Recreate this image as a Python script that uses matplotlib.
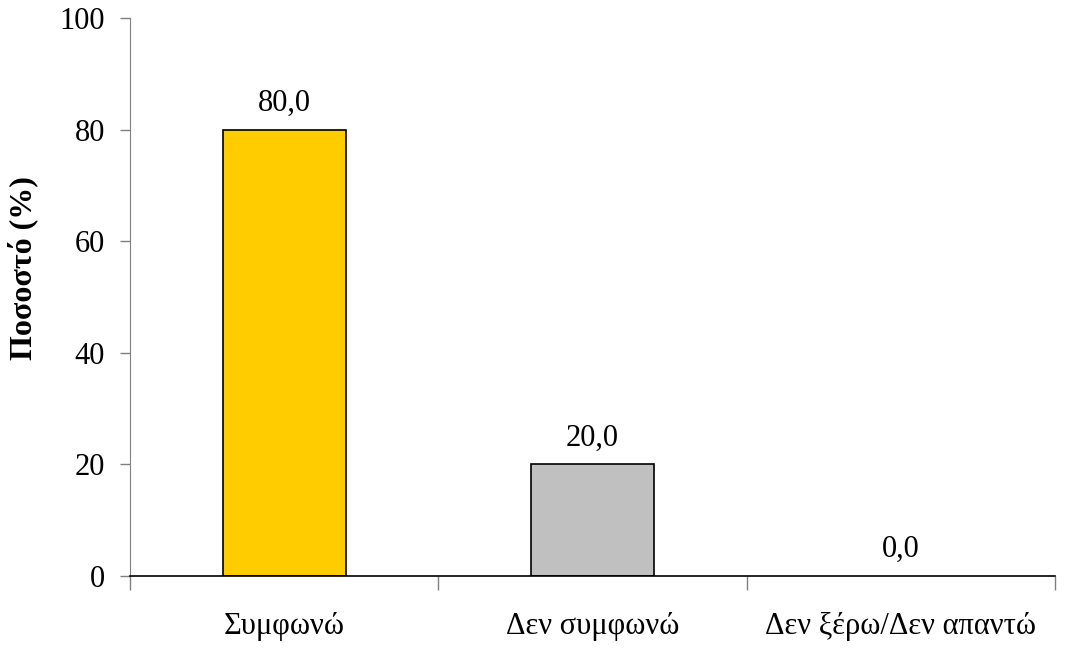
import matplotlib.pyplot as plt

categories = ["Συμφωνώ", "Δεν συμφωνώ", "Δεν ξέρω/Δεν απαντώ"]
values = [80.0, 20.0, 0.0]
colors = ["#FFCC00", "#C0C0C0", "#FFFFFF"]

plt.rcParams['font.family'] = ['Liberation Serif', 'DejaVu Serif']

fig = plt.figure(figsize=(10.71, 6.49), dpi=100)
ax = fig.add_axes([0.1214, 0.1125, 0.8636, 0.8598])

x = range(len(categories))
bars = ax.bar(x, values, width=0.40, color=colors, edgecolor="black", linewidth=1.2)
for i, v in enumerate(values):
    if v == 0:
        bars[i].set_edgecolor("none")
    ax.annotate(f"{v:.1f}".replace(".", ","), (i, v), xytext=(0, 19),
                textcoords="offset points", ha="center", va="center", fontsize=22)

ax.set_xlim(-0.5, 2.5)
ax.set_ylim(0, 100)
ax.set_yticks([0, 20, 40, 60, 80, 100])
ax.tick_params(axis="y", labelsize=22, length=7, width=1, color="#808080", pad=11)

# category ticks sit on the boundaries between bars
ax.set_xticks([-0.5, 0.5, 1.5, 2.5])
ax.set_xticklabels([])
ax.set_xticks(list(x), minor=True)
ax.set_xticklabels(categories, minor=True, fontsize=22)
ax.tick_params(axis="x", which="major", length=10, width=1, color="#808080")
ax.tick_params(axis="x", which="minor", length=0, pad=26)

ax.spines["top"].set_visible(False)
ax.spines["right"].set_visible(False)
ax.spines["left"].set_color("#808080")
ax.spines["bottom"].set_color("black")
ax.spines["bottom"].set_linewidth(1.2)

ax.set_ylabel("Ποσοστό (%)", fontsize=23, fontweight="bold")
ax.yaxis.set_label_coords(-0.0995, 0.552)

fig.savefig("out.png", dpi=100)
